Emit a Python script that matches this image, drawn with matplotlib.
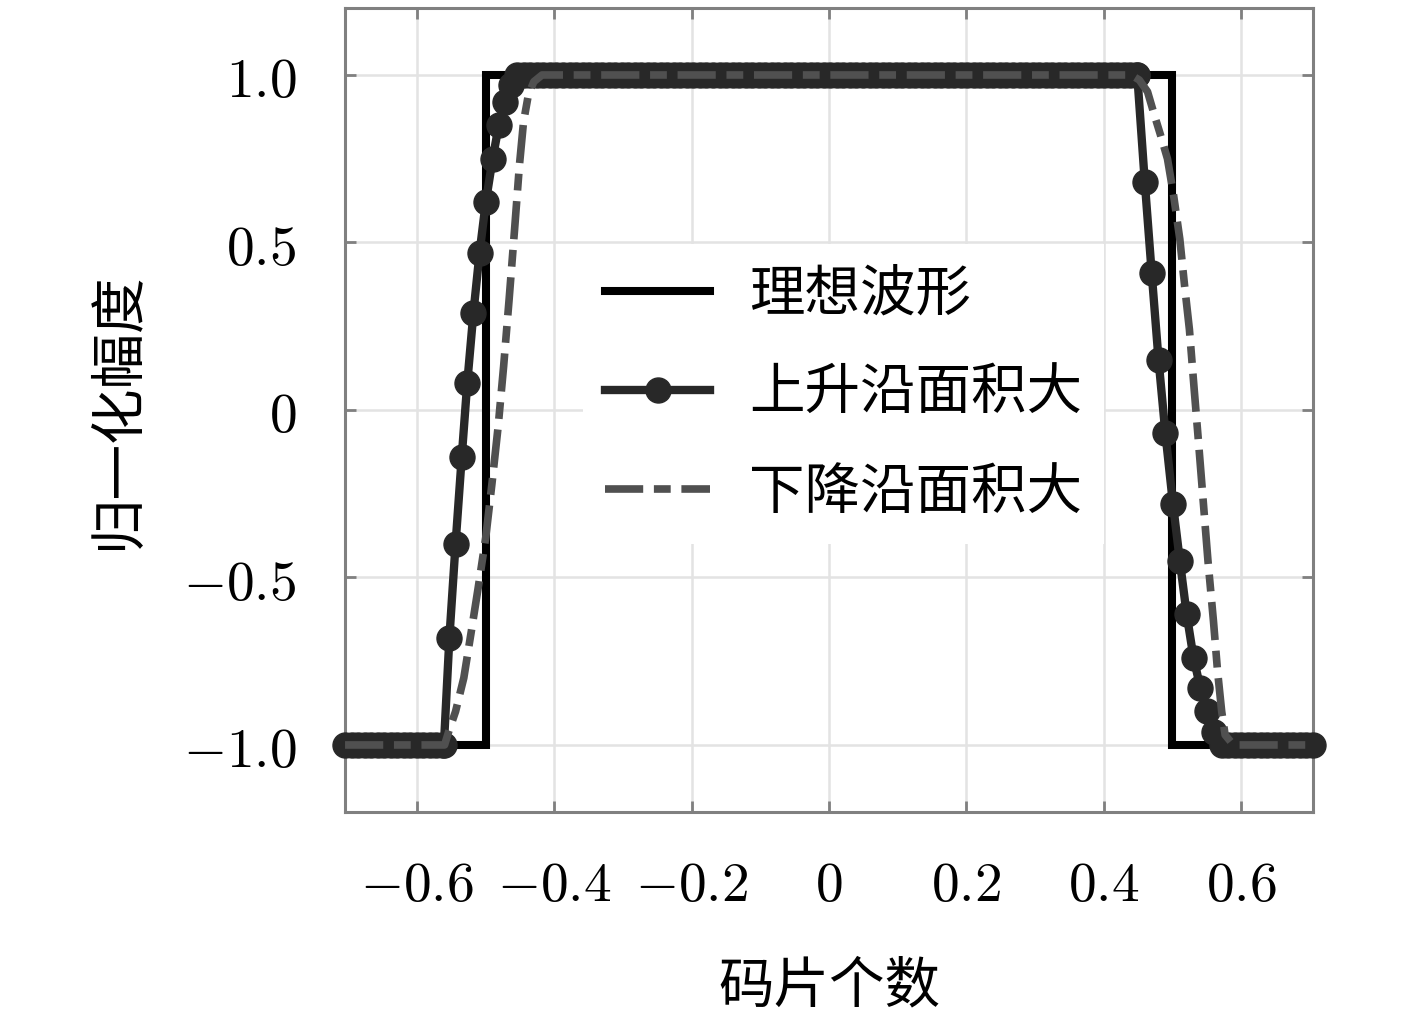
import numpy as np
import matplotlib
matplotlib.use('Agg')
import matplotlib.pyplot as plt

plt.rcParams['font.family'] = ['Noto Sans CJK SC', 'DejaVu Sans']
plt.rcParams['mathtext.fontset'] = 'cm'

# axis ticks / labels
x_ticks = [-0.6, -0.4, -0.2, 0, 0.2, 0.4, 0.6]
x_ticklabels = ['$-0.6$', '$-0.4$', '$-0.2$', '$0$', '$0.2$', '$0.4$', '$0.6$']
y_ticks = [-1.0, -0.5, 0, 0.5, 1.0]
y_ticklabels = ['$-1.0$', '$-0.5$', '$0$', '$0.5$', '$1.0$']
series_names = ['理想波形', '上升沿面积大', '下降沿面积大']

# ideal rectangular chip
ideal_x = [-0.705, -0.5, -0.5, 0.5, 0.5, 0.705]
ideal_y = [-1, -1, 1, 1, -1, -1]

# 上升沿面积大: edge samples
rise_a_x = [-0.561, -0.553, -0.544, -0.535, -0.527, -0.518, -0.509,
            -0.500, -0.490, -0.481, -0.472, -0.463, -0.454]
rise_a_y = [-1.0, -0.68, -0.40, -0.14, 0.08, 0.29, 0.47,
            0.62, 0.75, 0.85, 0.92, 0.97, 1.0]
fall_a_x = [0.449, 0.460, 0.470, 0.480, 0.490, 0.501, 0.511,
            0.521, 0.531, 0.541, 0.551, 0.561, 0.572]
fall_a_y = [1.0, 0.68, 0.41, 0.15, -0.07, -0.28, -0.45,
            -0.61, -0.74, -0.83, -0.90, -0.96, -1.0]

# 下降沿面积大: edge samples
rise_b_x = [-0.560, -0.554, -0.544, -0.532, -0.521, -0.511, -0.500, -0.491,
            -0.482, -0.474, -0.466, -0.458, -0.451, -0.445, -0.438, -0.430, -0.418]
rise_b_y = [-1.0, -0.96, -0.90, -0.80, -0.66, -0.53, -0.38, -0.22,
            -0.05, 0.13, 0.33, 0.54, 0.73, 0.86, 0.94, 0.98, 1.0]
fall_b_x = [0.440, 0.452, 0.464, 0.474, 0.483, 0.493, 0.502, 0.511, 0.518, 0.525,
            0.532, 0.538, 0.545, 0.552, 0.560, 0.566, 0.572, 0.577, 0.589]
fall_b_y = [1.0, 0.985, 0.95, 0.88, 0.82, 0.75, 0.64, 0.51, 0.37, 0.24,
            0.06, -0.09, -0.27, -0.45, -0.63, -0.78, -0.90, -0.97, -1.0]

x_start, x_end = -0.705, 0.705
step = 0.0095  # sample spacing


def flat(x0, x1, level):
    xs = np.arange(x0, x1 - 1e-9, step)
    return list(xs), [level] * len(xs)


lx, ly = flat(x_start, rise_a_x[0], -1.0)
tx, ty = flat(rise_a_x[-1] + step, fall_a_x[0], 1.0)
bx, by = flat(fall_a_x[-1] + step, x_end, -1.0)
a_x = lx + rise_a_x + tx + fall_a_x + bx + [x_end]
a_y = ly + rise_a_y + ty + fall_a_y + by + [-1.0]

b_x = [x_start] + rise_b_x + fall_b_x + [x_end]
b_y = [-1.0] + rise_b_y + fall_b_y + [-1.0]

fig = plt.figure(figsize=(14.17, 10.23), dpi=100)
ax = fig.add_axes([0.2435, 0.2063, 0.6831, 0.7859])

ax.plot(ideal_x, ideal_y, color='black', lw=5.8, label=series_names[0],
        solid_joinstyle='miter', zorder=3)
ax.plot(a_x, a_y, color='#282828', lw=6.0, marker='o', ms=18,
        mec='#282828', mfc='#282828', label=series_names[1], clip_on=False, zorder=4)
ax.plot(b_x, b_y, color='#505050', lw=5.5, dashes=(5.0, 1.4, 2.2, 1.4),
        dash_capstyle='butt', label=series_names[2], clip_on=False, zorder=5)

ax.set_xlim(x_start, x_end)
ax.set_ylim(-1.2, 1.2)
ax.set_xticks(x_ticks)
ax.set_xticklabels(x_ticklabels)
ax.set_yticks(y_ticks)
ax.set_yticklabels(y_ticklabels)
ax.tick_params(direction='in', length=8, width=2, color='#808080',
               labelsize=40, top=True, right=True)
ax.tick_params(axis='y', pad=35)
ax.tick_params(axis='x', pad=32)
for s in ax.spines.values():
    s.set_color('#808080')
    s.set_linewidth(2.2)
ax.grid(True, color='#e3e3e3', lw=1.8)
ax.set_axisbelow(True)

ax.set_xlabel('码片个数', fontsize=40, labelpad=32)
ax.set_ylabel('归一化幅度', fontsize=40, labelpad=26)

leg = ax.legend(loc='center', bbox_to_anchor=(0.515, 0.52), fontsize=40,
                frameon=True, fancybox=False,
                edgecolor='none', facecolor='white', framealpha=1,
                handlelength=1.9, handletextpad=0.7, labelspacing=0.75,
                borderpad=0.4)
leg.set_zorder(6)

fig.savefig('out.png', dpi=100)
